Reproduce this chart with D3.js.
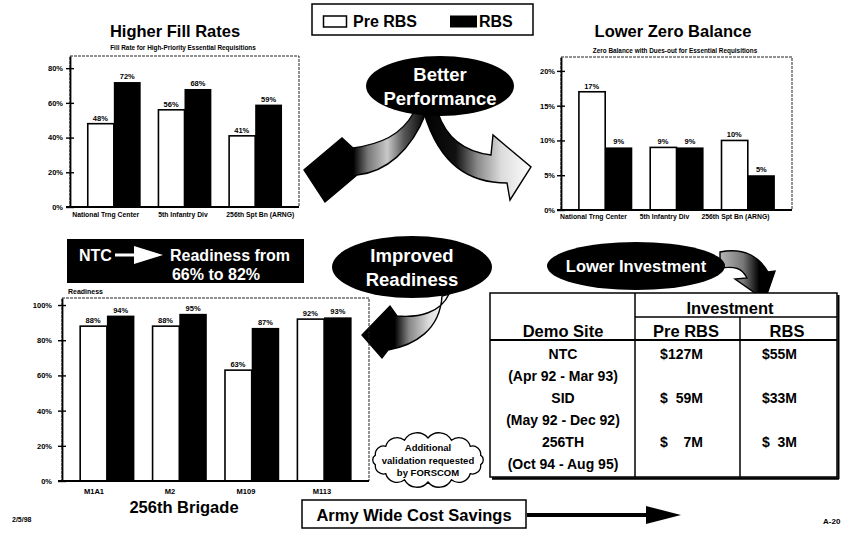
<!DOCTYPE html>
<html>
<head>
<meta charset="utf-8">
<script src="https://cdn.jsdelivr.net/npm/d3@7"></script>
<style>
  html, body { margin: 0; padding: 0; background: #fff; }
  svg { display: block; }
</style>
</head>
<body>
<script>
// ---- data ----
const fillCategories = ["National Trng Center", "5th Infantry Div", "256th Spt Bn (ARNG)"];
const fillPre = [48, 56, 41];
const fillRbs = [72, 68, 59];
const fillTicks = [0, 20, 40, 60, 80];

const zeroCategories = ["National Trng Center", "5th Infantry Div", "256th Spt Bn (ARNG)"];
const zeroPre = [17, 9, 10];
const zeroRbs = [9, 9, 5];
const zeroTicks = [0, 5, 10, 15, 20];

const readinessCategories = ["M1A1", "M2", "M109", "M113"];
const readinessPre = [88, 88, 63, 92];
const readinessRbs = [94, 95, 87, 93];
const readinessTicks = [0, 20, 40, 60, 80, 100];

const demoSites = ["NTC", "SID", "256TH"];
const demoPeriods = ["(Apr 92 - Mar 93)", "(May 92 - Dec 92)", "(Oct 94 - Aug 95)"];
const investPre = [127, 59, 7];
const investRbs = [55, 33, 3];

const legendLabels = ["Pre RBS", "RBS"];

// ---- setup ----
const W = 841, H = 539;
const FONT = "'Liberation Sans', Arial, Helvetica, sans-serif";
const svg = d3.select("body").append("svg")
  .attr("width", W).attr("height", H)
  .attr("font-family", FONT);

const defs = svg.append("defs");
function gradient(id, x1, y1, x2, y2, stops) {
  const g = defs.append("linearGradient").attr("id", id)
    .attr("gradientUnits", "userSpaceOnUse")
    .attr("x1", x1).attr("y1", y1).attr("x2", x2).attr("y2", y2);
  stops.forEach(([o, c]) => g.append("stop").attr("offset", o).attr("stop-color", c));
}

function text(sel, x, y, str, size, opts = {}) {
  return sel.append("text")
    .attr("x", x).attr("y", y)
    .attr("font-size", size)
    .attr("font-weight", opts.weight || "bold")
    .attr("text-anchor", opts.anchor || "middle")
    .attr("fill", opts.fill || "#000")
    .text(str);
}

// ---- grouped bar chart ----
function drawBarChart(cfg) {
  const g = svg.append("g");
  const y = d3.scaleLinear().domain([0, cfg.yMax]).range([cfg.bottom, cfg.top]);
  const xBar = d3.scaleBand().domain(cfg.cats).range([cfg.left, cfg.right])
    .paddingInner(0.24).paddingOuter(0.24);
  const xLbl = d3.scaleBand().domain(cfg.cats).range(cfg.labelRange);
  const xSub = d3.scaleBand().domain(["pre", "rbs"]).range([0, xBar.bandwidth()]);

  // plot frame
  g.append("rect")
    .attr("x", cfg.left).attr("y", cfg.top)
    .attr("width", cfg.right - cfg.left).attr("height", cfg.bottom - cfg.top)
    .attr("fill", "none").attr("stroke", "#222").attr("stroke-width", 1)
    .attr("stroke-dasharray", "3,1");

  const rows = cfg.cats.map((c, i) => ({ cat: c, pre: cfg.pre[i], rbs: cfg.rbs[i] }));
  const grp = g.selectAll("g.grp").data(rows).join("g")
    .attr("class", "grp")
    .attr("transform", d => `translate(${xBar(d.cat)},0)`);

  const pairs = d => [{ k: "pre", v: d.pre }, { k: "rbs", v: d.rbs }];
  grp.selectAll("rect").data(pairs).join("rect")
    .attr("x", d => xSub(d.k) + (d.k === "pre" ? 0.8 : 0))
    .attr("y", d => y(d.v))
    .attr("width", d => xSub.bandwidth() - (d.k === "pre" ? 0.8 : 0))
    .attr("height", d => cfg.bottom - y(d.v))
    .attr("fill", d => d.k === "pre" ? "#fff" : "#000")
    .attr("stroke", "#000")
    .attr("stroke-width", d => d.k === "pre" ? 1.6 : 0);

  grp.selectAll("text").data(pairs).join("text")
    .attr("x", d => xSub(d.k) + xSub.bandwidth() / 2)
    .attr("y", d => y(d.v) - 3)
    .attr("text-anchor", "middle")
    .attr("font-size", cfg.valueSize)
    .attr("font-weight", "bold")
    .text(d => d.v + "%");

  // value axis
  const axis = d3.axisLeft(y).tickValues(cfg.ticks).tickSizeInner(0).tickSizeOuter(0)
    .tickPadding(cfg.tickPad).tickFormat(d => d + "%");
  const axG = g.append("g").attr("transform", `translate(${cfg.left},0)`).call(axis);
  axG.select(".domain").attr("stroke", "#000").attr("stroke-width", 1.8);
  axG.selectAll(".tick line").attr("x1", -4).attr("x2", 4).attr("stroke", "#000").attr("stroke-width", 1.4);
  axG.selectAll(".tick text")
    .attr("font-family", FONT).attr("font-size", cfg.tickSize).attr("font-weight", "bold").attr("fill", "#000");

  // baseline
  g.append("line")
    .attr("x1", cfg.left - 4).attr("x2", cfg.right)
    .attr("y1", cfg.bottom).attr("y2", cfg.bottom)
    .attr("stroke", "#000").attr("stroke-width", 1.8);

  // category labels
  g.selectAll("text.cat").data(cfg.cats).join("text")
    .attr("class", "cat")
    .attr("x", d => xLbl(d) + xLbl.bandwidth() / 2)
    .attr("y", cfg.catY)
    .attr("text-anchor", "middle")
    .attr("font-size", cfg.catSize)
    .attr("font-weight", "bold")
    .text(d => d);
  return g;
}

// ---- curved arrows (drawn before the ovals that sit on top of them) ----
gradient("gLeft", 305, 0, 426, 0, [[0, "#000"], [0.4, "#000"], [0.52, "#777"], [0.68, "#c8c8c8"], [0.82, "#555"], [1, "#000"]]);
gradient("gRight", 423, 0, 532, 0, [[0, "#000"], [0.3, "#111"], [0.5, "#8a8a8a"], [0.72, "#dcdcdc"], [1, "#fff"]]);
gradient("gReady", 362, 0, 448, 0, [[0, "#000"], [0.38, "#000"], [0.55, "#888"], [0.78, "#ddd"], [1, "#fff"]]);
gradient("gInvest", 722, 0, 775, 0, [[0, "#b0b0b0"], [0.4, "#777"], [0.7, "#000"], [1, "#000"]]);

const arrows = svg.append("g").attr("stroke", "#000").attr("stroke-width", 1.4).attr("stroke-linejoin", "miter");
arrows.append("path").attr("fill", "url(#gLeft)")
  .attr("d", "M414,112 C401,136 380,144 353,148 L342,138 L304,170 L325,202 L357,175 C386,172 411,151 426,113 Z");
arrows.append("path").attr("fill", "url(#gRight)")
  .attr("d", "M438,113 C447,140 467,152 491,155 L493,135 L531,167 L510,200 L507,183 C470,183 440,166 424,113 Z");
arrows.append("path").attr("fill", "url(#gReady)")
  .attr("d", "M449,294 C441,312 420,318 397,316 L390,306 L362,335 L382,358 L388,350 C415,345 440,330 442,296 Z");
arrows.append("path").attr("fill", "url(#gInvest)")
  .attr("d", "M720,252 C745,247 760,258 768,272 L775,271 L765,300 L735,279 L747,278 C742,268 735,266 720,268 Z");

// ---- ovals ----
function oval(cx, cy, rx, ry, lines, size, lineGap) {
  svg.append("ellipse").attr("cx", cx).attr("cy", cy).attr("rx", rx).attr("ry", ry).attr("fill", "#000");
  const y0 = cy - (lines.length - 1) * lineGap / 2 + size * 0.36;
  lines.forEach((l, i) => text(svg, cx, y0 + i * lineGap, l, size, { fill: "#fff" }));
}
oval(440, 86, 74, 30, ["Better", "Performance"], 18.5, 24);
oval(412, 267, 80, 31, ["Improved", "Readiness"], 18.5, 24);
oval(636, 266, 89, 24, ["Lower Investment"], 16.5, 0);

// ---- legend ----
const leg = svg.append("g");
leg.append("rect").attr("x", 312).attr("y", 4).attr("width", 221).attr("height", 31)
  .attr("fill", "#fff").attr("stroke", "#000").attr("stroke-width", 1.5);
leg.append("rect").attr("x", 323.5).attr("y", 16).attr("width", 23).attr("height", 11)
  .attr("fill", "#fff").attr("stroke", "#000").attr("stroke-width", 1.5);
text(leg, 353, 27, legendLabels[0], 16, { anchor: "start" });
leg.append("rect").attr("x", 450).attr("y", 15.5).attr("width", 27).attr("height", 12).attr("fill", "#000");
text(leg, 479, 27, legendLabels[1], 16, { anchor: "start" });

// ---- top-left: fill rates ----
text(svg, 175, 37, "Higher Fill Rates", 16.5);
text(svg, 183, 50, "Fill Rate for High-Priority Essential Requisitions", 6.4);
drawBarChart({
  cats: fillCategories, pre: fillPre, rbs: fillRbs, ticks: fillTicks,
  left: 70, right: 299, top: 56, bottom: 207, yMax: 87,
  labelRange: [67, 299], catY: 217, catSize: 6.8,
  tickPad: 7, tickSize: 7.5, valueSize: 7.5
});

// ---- top-right: zero balance ----
text(svg, 673, 37, "Lower Zero Balance", 16.5);
text(svg, 675, 53, "Zero Balance with Dues-out for Essential Requisitions", 6.4);
drawBarChart({
  cats: zeroCategories, pre: zeroPre, rbs: zeroRbs, ticks: zeroTicks,
  left: 561, right: 792, top: 57, bottom: 210, yMax: 22,
  labelRange: [558, 771], catY: 219, catSize: 6.8,
  tickPad: 6, tickSize: 7.5, valueSize: 7.5
});

// ---- NTC banner ----
const ban = svg.append("g");
ban.append("rect").attr("x", 67).attr("y", 239).attr("width", 237).attr("height", 44).attr("fill", "#000");
text(ban, 79, 261, "NTC", 16, { anchor: "start", fill: "#fff" });
ban.append("rect").attr("x", 115).attr("y", 253.5).attr("width", 22).attr("height", 3).attr("fill", "#fff");
ban.append("path").attr("d", "M134,246 L163,255 L134,264 Z").attr("fill", "#fff");
text(ban, 170, 261, "Readiness from", 16, { anchor: "start", fill: "#fff" });
text(ban, 216, 280, "66% to 82%", 16, { fill: "#fff" });

// ---- bottom-left: readiness ----
text(svg, 68, 294, "Readiness", 7, { anchor: "start" });
drawBarChart({
  cats: readinessCategories, pre: readinessPre, rbs: readinessRbs, ticks: readinessTicks,
  left: 62, right: 369, top: 298, bottom: 481, yMax: 104,
  labelRange: [56, 360], catY: 494, catSize: 7.5,
  tickPad: 10, tickSize: 7.5, valueSize: 7.5
});
text(svg, 184, 513, "256th Brigade", 16.5);

// ---- cloud note ----
function cloudPath(cx, cy, rx, ry, n) {
  const pts = d3.range(n).map(i => {
    const a = -Math.PI / 2 + i * 2 * Math.PI / n;
    return [cx + rx * Math.cos(a), cy + ry * Math.sin(a)];
  });
  let p = `M${pts[0][0]},${pts[0][1]}`;
  for (let i = 0; i < n; i++) {
    const a = pts[i], b = pts[(i + 1) % n];
    const r = Math.hypot(b[0] - a[0], b[1] - a[1]) * 0.6;
    p += `A${r},${r} 0 0 1 ${b[0]},${b[1]}`;
  }
  return p + "Z";
}
svg.append("path").attr("d", cloudPath(428, 460, 54, 22, 14))
  .attr("fill", "#fff").attr("stroke", "#000").attr("stroke-width", 1.3);
text(svg, 428, 451, "Additional", 9.5);
text(svg, 428, 464, "validation requested", 9.5);
text(svg, 428, 476, "by FORSCOM", 9.5);

// ---- investment table ----
const tb = svg.append("g");
const tL = 490, tR = 837, tT = 293, tB = 477, c1 = 635, c2 = 740, hLine1 = 317, hLine2 = 340;
tb.append("rect").attr("x", tL).attr("y", tT).attr("width", tR - tL).attr("height", tB - tT)
  .attr("fill", "#fff").attr("stroke", "#000").attr("stroke-width", 1.5);
tb.append("line").attr("x1", tL + 2).attr("x2", tR + 2).attr("y1", tB + 1.5).attr("y2", tB + 1.5)
  .attr("stroke", "#000").attr("stroke-width", 2.5);
tb.append("line").attr("x1", tR + 1.5).attr("x2", tR + 1.5).attr("y1", tT + 2).attr("y2", tB + 2)
  .attr("stroke", "#000").attr("stroke-width", 2);
tb.append("line").attr("x1", c1).attr("x2", c1).attr("y1", tT).attr("y2", tB).attr("stroke", "#000").attr("stroke-width", 1.5);
tb.append("line").attr("x1", c2).attr("x2", c2).attr("y1", hLine1).attr("y2", tB).attr("stroke", "#000").attr("stroke-width", 1.5);
tb.append("line").attr("x1", c1).attr("x2", tR).attr("y1", hLine1).attr("y2", hLine1).attr("stroke", "#000").attr("stroke-width", 1.5);
tb.append("line").attr("x1", tL).attr("x2", tR).attr("y1", hLine2).attr("y2", hLine2).attr("stroke", "#000").attr("stroke-width", 2);

text(tb, 730, 314, "Investment", 16.5);
text(tb, 563, 337, "Demo Site", 16.5);
text(tb, 686, 337, "Pre RBS", 16.5);
text(tb, 787, 337, "RBS", 16.5);

const rowY = d3.scalePoint().domain(demoSites).range([359, 447]);
demoSites.forEach((s, i) => {
  const y = rowY(s);
  text(tb, 563, y, s, 14);
  text(tb, 563, y + 22, demoPeriods[i], 14);
  text(tb, 660, y, "$", 14, { anchor: "start" });
  text(tb, 703, y, investPre[i] + "M", 14, { anchor: "end" });
  text(tb, 762, y, "$", 14, { anchor: "start" });
  text(tb, 797, y, investRbs[i] + "M", 14, { anchor: "end" });
});

// ---- cost savings banner ----
svg.append("rect").attr("x", 302).attr("y", 500).attr("width", 224).attr("height", 28)
  .attr("fill", "#fff").attr("stroke", "#000").attr("stroke-width", 1.5);
text(svg, 414, 521, "Army Wide Cost Savings", 16.5);
svg.append("line").attr("x1", 527).attr("x2", 650).attr("y1", 515).attr("y2", 515)
  .attr("stroke", "#000").attr("stroke-width", 4);
svg.append("path").attr("d", "M646,506 L681,515 L646,524 Z").attr("fill", "#000");

// ---- footer ----
text(svg, 12, 522, "2/5/98", 7, { anchor: "start" });
text(svg, 823, 524, "A-20", 8, { anchor: "start" });
</script>
</body>
</html>
